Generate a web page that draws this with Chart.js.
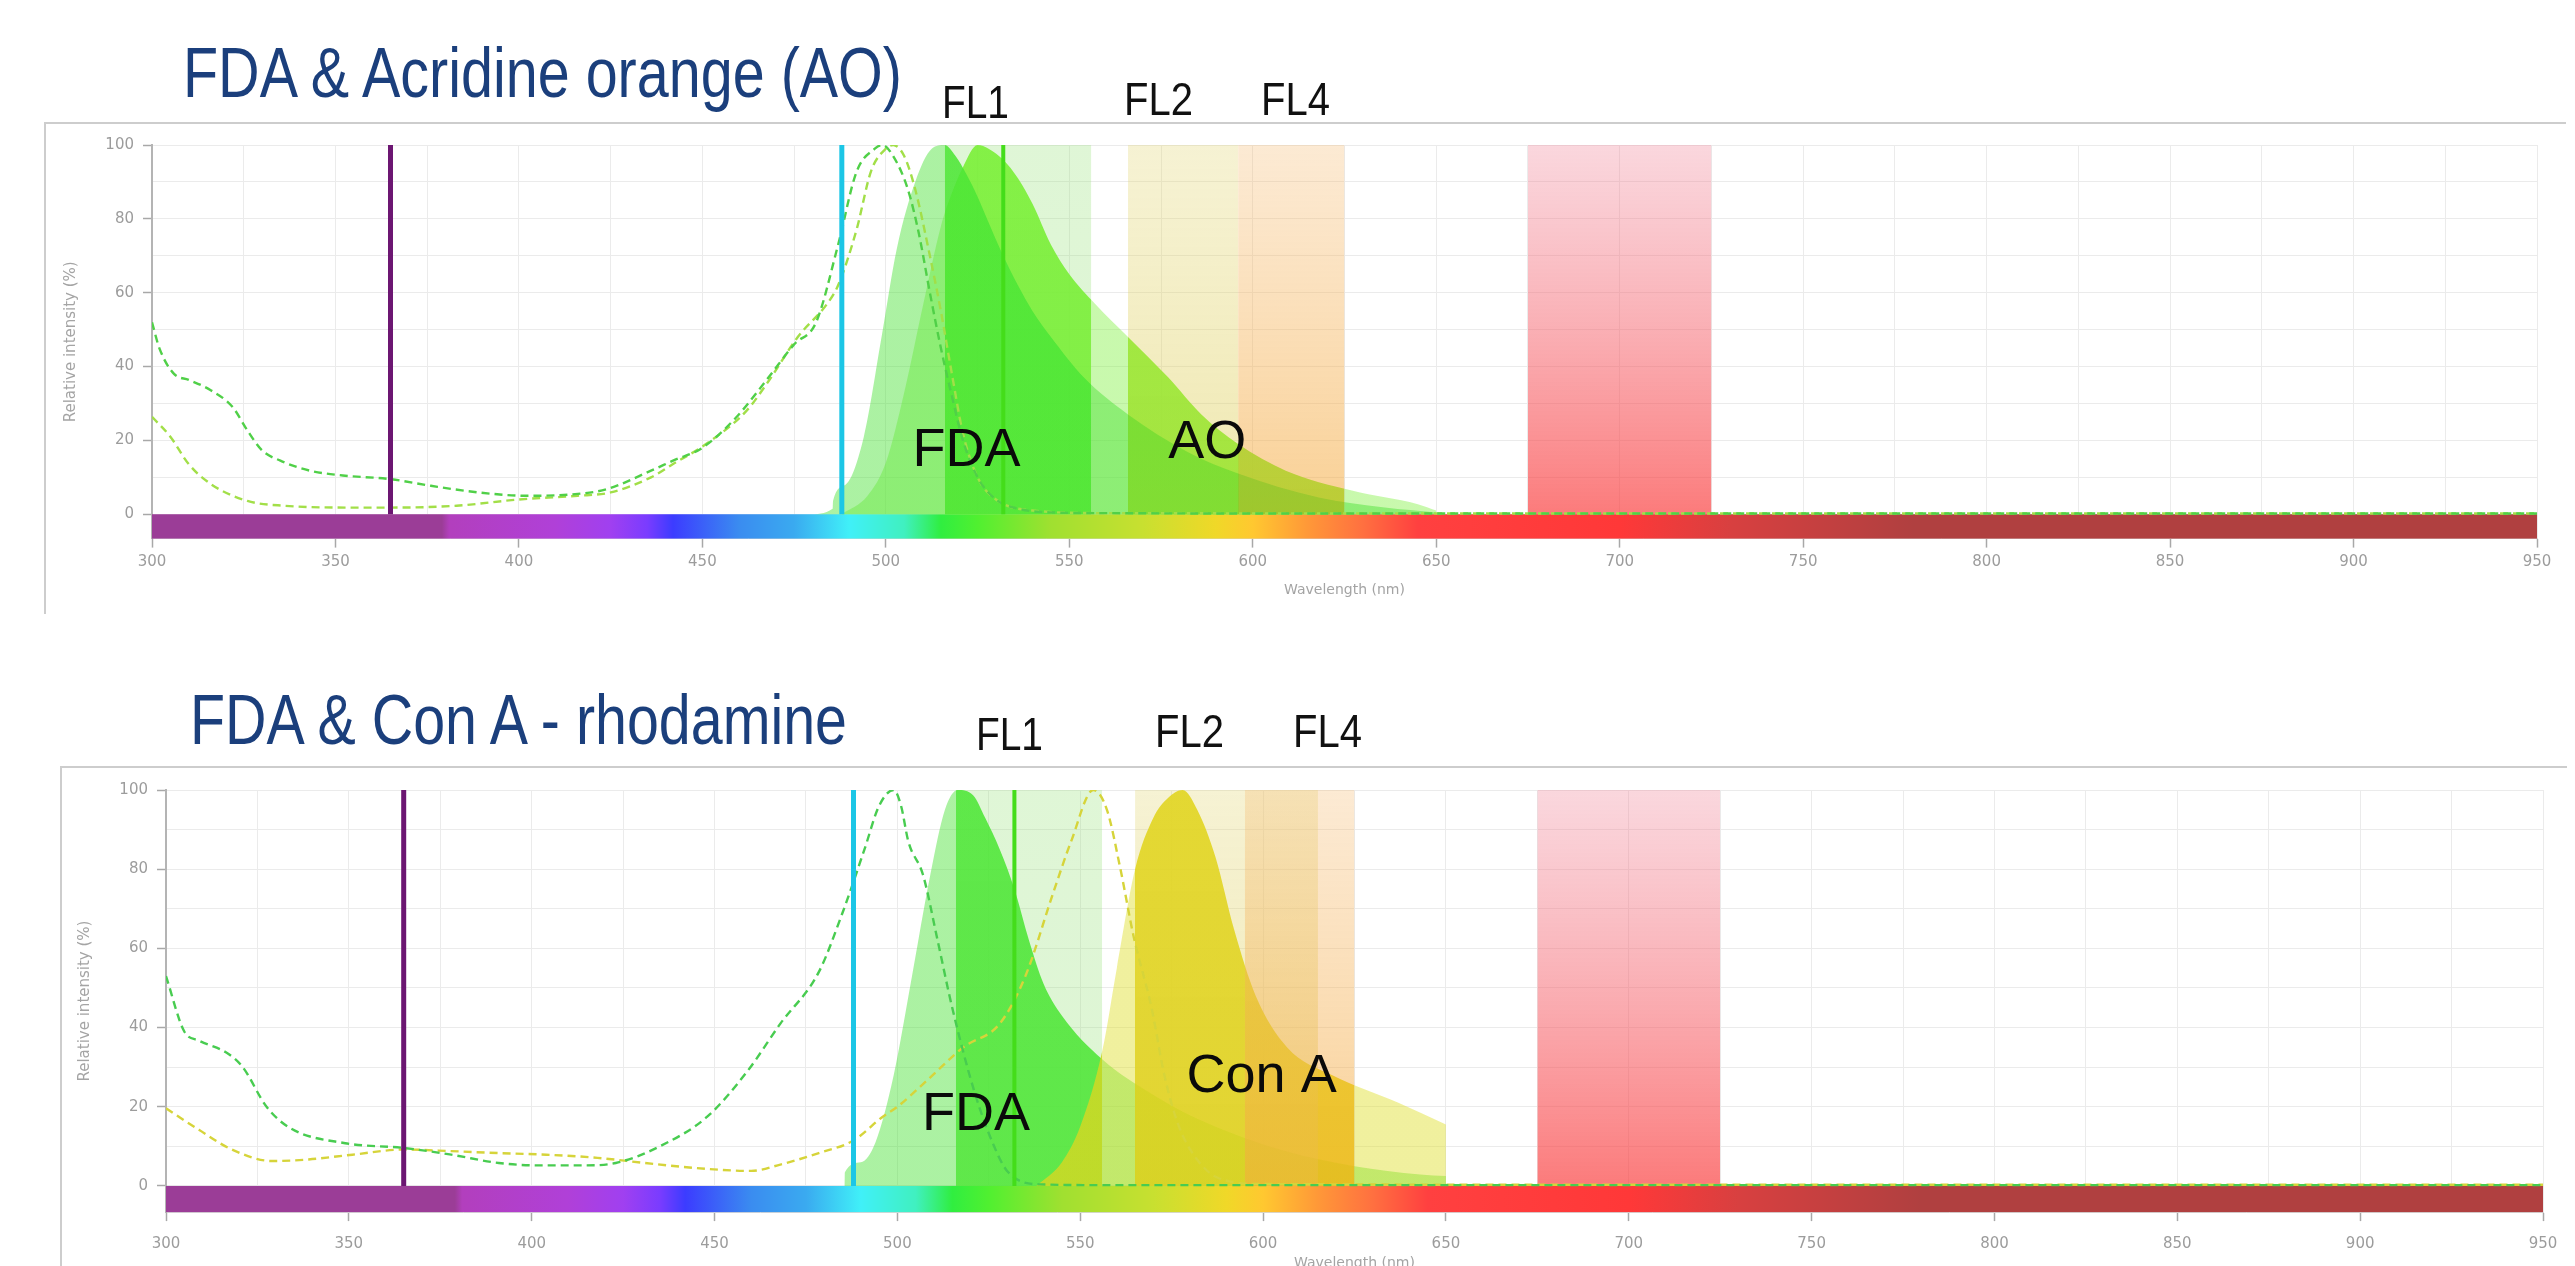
<!DOCTYPE html>
<html><head><meta charset="utf-8">
<script src="https://cdn.jsdelivr.net/npm/chart.js@4.4.1/dist/chart.umd.min.js"></script>
<style>
html,body{margin:0;padding:0;background:#fff;width:2575px;height:1266px;overflow:hidden;position:relative}
canvas{position:absolute;left:0}
.t{position:absolute;white-space:nowrap;line-height:1;transform-origin:0 0}
.frame{position:absolute;border-top:2px solid #cdcdcd;border-left:2px solid #cdcdcd}
</style></head><body>
<div class="frame" style="left:44px;top:122px;width:2520px;height:490px"></div>
<div class="frame" style="left:60px;top:766px;width:2505px;height:510px"></div>
<canvas id="c1" width="2575" height="640" style="top:0"></canvas>
<canvas id="c2" width="2575" height="640" style="top:650px"></canvas>
<script>
// ---------- data ----------
const X_MIN = 300, X_MAX = 950, Y_MIN = -6.6, Y_MAX = 100;
const xTickLabels = [300,350,400,450,500,550,600,650,700,750,800,850,900,950];
const yTickLabels = [0,20,40,60,80,100];

// laser lines (nm)
const laserNm = [365, 488, 532];

// filter bands (nm)
const bandNames = ['FL1','FL2','FL4','FL3'];
const topBandFrom = [516, 566, 596, 675];
const topBandTo   = [556, 596, 625, 725];
const botBandFrom = [516, 565, 595, 675];
const botBandTo   = [556, 615, 625, 725];
const bandTop = 100;

// top chart: FDA & Acridine orange
const topFdaExNm  = [300,302,306,310,316,322,326,330,335,343,352,365,376,389,402,416,424,436,442,450,459,468,475,481,487,492,497,499,502,506,509,512,515,518,521,525,530,536,545,560,600,700,800,950];
const topFdaExVal = [52,45,38,36.4,33.6,29,22.7,17.3,14.5,11.8,10.5,9.5,7.7,5.9,5,5.5,6.8,11.8,14.5,18,26,37,46,52,73,92.7,99,100,97,88,76,60,45,32,20,10,4,1.5,0.5,0.3,0.2,0.2,0.2,0.2];
const topAoExNm   = [300,305,310,316,326,336,356,365,383,400,416,425,436,442,451,462,468,476,484,487,492,496,500,502,505,508,512,515,518,521,525,530,540,560,700,950];
const topAoExVal  = [26.4,21,13.6,8.2,3.6,2.3,1.8,1.8,2.3,4,5,5.9,10,13.6,19,28,36,48,57,62,77,93,99,100,97,88,70,55,38,22,10,4,1,0.3,0.2,0.2];
const topFdaEmNm  = [479,485.5,485.6,489,494,499,503,508,512.5,516,519,522,525,528,532,536,540,545,554,566,582,596,618,636,650];
const topFdaEmVal = [0,1.5,3.6,8,21,49,72,90,99,100,97,92,86,79,70,62,55,48,37,27,17,11,4.5,1.8,0.5];
const topAoEmNm   = [488,495,500,505,510,515,518,521,525,528,532,536,540,545,550,557,566,577,586,596,609,627,645,650];
const topAoEmVal  = [0,5,14,33,56,78,87,94,100,99,96,91,84,73,65,57,48,37,27,19,11.8,6.4,2.7,1];

// bottom chart: FDA & Con A - rhodamine
const botFdaExNm  = [300,305,309,317,321,327.5,334,349,365,378,391,402,415,423,435,448,459,468,478.5,485,491,495,499,501,503,507,511,515,521,526,530,539,560,700,950];
const botFdaExVal = [53,39,36.7,33.4,30,20,14.6,10.8,9.6,7.9,5.8,5.2,5.2,5.8,10,17.5,29,41,54,69,85,96,100,96,87,78.6,62,45,24,11,3.8,0.4,0.2,0.2,0.2];
const botRhoExNm  = [300,309,318,329,339,351,365,378,391,404,418,431,444,460,468,478.5,488,496,500,508.5,518,528,535,542.6,547.5,553.6,557.3,561,564.6,569.5,573,576.8,581.7,587.8,600,700,950];
const botRhoExVal = [19.6,14.2,9.2,6.3,6.7,7.9,9.2,8.8,8.3,7.9,7.1,5.8,4.6,3.8,5.4,8.3,11.5,17.5,20,27,35,41,53,74,87,100,95,80,63,45,28,15.5,7,2,0.5,0.3,0.3];
const botFdaEmNm  = [485.5,485.6,490,494,499,504,509,513,516.5,520.7,524,528,532,536,540,545,556,570,582,606,625,643,650];
const botFdaEmVal = [0,3.4,6,11,28,53,78.6,95,100,98.7,93,85,75,62,51,43,32,23,17,8.8,5,2.9,2.5];
const botConAEmNm  = [538,545,550,556,560,565,570,574,578,582,587,592,598,606.6,618.8,637,650];
const botConAEmVal = [0,6,15,34,55,80,93,98,100,95,83,65,48,35,28,21,15.5];

// in-plot labels (text, wavelength, intensity)
const topAnnText = ['FDA','AO'];
const topAnnNm   = [522, 587.6];
const topAnnVal  = [17, 19.2];
const botAnnText = ['FDA','Con A'];
const botAnnNm   = [521.5, 599.6];
const botAnnVal  = [18, 27.6];

// visible spectrum strip under the axis
const spectrumNm    = [300,379,381,410,425,435,442,460,475,490,505,515,525,545,570,590,600,615,630,645,700,730,780,950];
const spectrumColor = ['#9b3d97','#9b3d97','#b23fbd','#b040d8','#a040f0','#7a3cff','#3c3cff','#3a8cf0','#3aaaf0','#40f0f8','#40f0c0','#30ee40','#50f030','#a0e030','#c8e030','#f0d828','#ffc830','#ff9838','#ff7040','#ff4040','#ff3838','#d84040','#b04040','#b04040'];

// ---------- styles ----------
const bandStyle = {
  FL1: ['rgba(150,225,120,0.30)','rgba(150,225,120,0.32)'],
  FL2: ['rgba(225,212,110,0.30)','rgba(222,205,80,0.45)'],
  FL4: ['rgba(245,185,110,0.30)','rgba(245,170,60,0.55)'],
  FL3: ['rgba(240,130,150,0.32)','rgba(250,60,60,0.68)']
};
const laserStyle = [['#6c1672',5],['#1cc6e6',5],['#44dd1a',4]];

Chart.defaults.font.family = '"DejaVu Sans", "Liberation Sans", sans-serif';

const xy = (n, v) => n.map((x, i) => ({x, y: v[i]}));

function mergedIntervals(from, to) {
  const iv = from.map((a, i) => [a, to[i]]).sort((p, q) => p[0] - q[0]);
  const out = [];
  iv.forEach(([a, b]) => {
    if (out.length && a <= out[out.length-1][1]) out[out.length-1][1] = Math.max(out[out.length-1][1], b);
    else out.push([a, b]);
  });
  return out;
}

function emission(n, v, outC, inC, from, to, order) {
  const iv = mergedIntervals(from, to);
  return {
    data: xy(n, v), order, fill: 'origin', borderColor: 'rgba(0,0,0,0)', borderWidth: 0,
    cubicInterpolationMode: 'monotone', pointRadius: 0,
    backgroundColor: (ctx) => {
      const chart = ctx.chart, area = chart.chartArea;
      if (!area) return outC;
      const sx = chart.scales.x;
      const x0 = sx.getPixelForValue(X_MIN), x1 = sx.getPixelForValue(X_MAX);
      const g = chart.ctx.createLinearGradient(x0, 0, x1, 0);
      const f = nm => Math.min(1, Math.max(0, (nm - X_MIN) / (X_MAX - X_MIN)));
      g.addColorStop(0, outC);
      iv.forEach(([a, b]) => {
        g.addColorStop(f(a), outC); g.addColorStop(f(a), inC);
        g.addColorStop(f(b), inC); g.addColorStop(f(b), outC);
      });
      g.addColorStop(1, outC);
      return g;
    }
  };
}

function band(name, a, b, order) {
  const [cTop, cBot] = bandStyle[name];
  return {
    data: [{x: a, y: bandTop}, {x: b, y: bandTop}], order, fill: 'origin',
    borderColor: 'rgba(0,0,0,0)', borderWidth: 0, pointRadius: 0, tension: 0,
    backgroundColor: (ctx) => {
      const chart = ctx.chart, area = chart.chartArea;
      if (!area) return cBot;
      const sy = chart.scales.y;
      const g = chart.ctx.createLinearGradient(0, sy.getPixelForValue(bandTop), 0, sy.getPixelForValue(0));
      g.addColorStop(0, cTop); g.addColorStop(1, cBot);
      return g;
    }
  };
}

function excitation(n, v, color, order) {
  return { data: xy(n, v), order, fill: false, borderColor: color, borderWidth: 2.4,
    borderDash: [8, 5], cubicInterpolationMode: 'monotone', pointRadius: 0 };
}

function laser(i, order) {
  return { data: [{x: laserNm[i], y: 0}, {x: laserNm[i], y: 100}], order, fill: false,
    borderColor: laserStyle[i][0], borderWidth: laserStyle[i][1], pointRadius: 0, tension: 0 };
}

const spectrumPlugin = {
  id: 'spectrumBar',
  beforeDatasetsDraw(chart) {
    const {ctx, scales: {x, y}} = chart;
    const x0 = x.getPixelForValue(X_MIN), x1 = x.getPixelForValue(X_MAX);
    const y0 = y.getPixelForValue(0), y1 = y.getPixelForValue(Y_MIN);
    const g = ctx.createLinearGradient(x0, 0, x1, 0);
    spectrumNm.forEach((nm, i) => g.addColorStop((nm - X_MIN) / (X_MAX - X_MIN), spectrumColor[i]));
    ctx.save(); ctx.fillStyle = g; ctx.fillRect(x0, y0, x1 - x0, y1 - y0); ctx.restore();
  }
};

const annotPlugin = {
  id: 'annot',
  afterDatasetsDraw(chart, args, opts) {
    const {ctx, scales: {x, y}} = chart;
    ctx.save();
    ctx.font = '54px "Liberation Sans", Arial, sans-serif';
    ctx.fillStyle = '#0a0a0a'; ctx.textAlign = 'center'; ctx.textBaseline = 'middle';
    opts.texts.forEach((t, i) => ctx.fillText(t, x.getPixelForValue(opts.nm[i]), y.getPixelForValue(opts.val[i])));
    ctx.restore();
  }
};

function makeChart(id, c) {
  const tickColorX = (ctx) => (ctx.tick && xTickLabels.includes(ctx.tick.value)) ? '#a8a8a8' : 'rgba(0,0,0,0)';
  const tickColorY = (ctx) => (ctx.tick && yTickLabels.includes(ctx.tick.value)) ? '#a8a8a8' : 'rgba(0,0,0,0)';
  return new Chart(document.getElementById(id), {
    type: 'line',
    data: { datasets: c.datasets },
    options: {
      responsive: false, animation: false, devicePixelRatio: 1,
      layout: { padding: c.padding },
      plugins: { legend: {display: false}, tooltip: {enabled: false},
        annot: { texts: c.annText, nm: c.annNm, val: c.annVal } },
      elements: { point: { radius: 0 } },
      scales: {
        x: { type: 'linear', min: X_MIN, max: X_MAX,
          afterFit: s => { s.height = 60; },
          ticks: { stepSize: 25, autoSkip: false, maxRotation: 0, color: '#9c9c9c', font: {size: 15}, padding: c.xPad,
            callback: v => xTickLabels.includes(v) ? String(v) : '' },
          grid: { color: '#ebebeb', lineWidth: 1, tickLength: 9, tickWidth: 1.5, tickColor: tickColorX },
          border: { color: '#d6d6d6', width: 1 },
          title: { display: true, text: 'Wavelength (nm)', color: '#a4a4a4', font: {size: 14}, padding: {top: 4, bottom: 0} } },
        y: { type: 'linear', min: Y_MIN, max: Y_MAX,
          afterFit: s => { s.width = 92; },
          afterBuildTicks: s => { s.ticks = s.ticks.filter(t => t.value >= 0); },
          ticks: { stepSize: 10, autoSkip: false, color: '#9c9c9c', font: {size: 15}, padding: 9,
            callback: v => yTickLabels.includes(v) ? String(v) : '' },
          grid: { color: '#ebebeb', lineWidth: 1, tickLength: 9, tickWidth: 1.5, tickColor: tickColorY },
          border: { color: '#b4b4b4', width: 2 },
          title: { display: true, text: 'Relative intensity (%)', color: '#a4a4a4', font: {size: 15}, padding: {top: 2, bottom: 4} } }
      }
    },
    plugins: [spectrumPlugin, annotPlugin]
  });
}

function bandsFor(from, to, startOrder) {
  return bandNames.map((nm, i) => band(nm, from[i], to[i], startOrder - i));
}

// top chart
makeChart('c1', {
  padding: {left: 60, right: 38, top: 145, bottom: 41.4}, xPad: 6,
  annText: topAnnText, annNm: topAnnNm, annVal: topAnnVal,
  datasets: [
    emission(topAoEmNm, topAoEmVal, 'rgba(125,240,60,0.42)', 'rgba(105,245,20,0.88)', topBandFrom, topBandTo, 20),
    emission(topFdaEmNm, topFdaEmVal, 'rgba(70,225,50,0.45)', 'rgba(45,232,25,0.88)', topBandFrom, topBandTo, 19),
    ...bandsFor(topBandFrom, topBandTo, 15),
    excitation(topAoExNm, topAoExVal, '#a2df48', 6),
    excitation(topFdaExNm, topFdaExVal, '#50d048', 5),
    laser(0, 3), laser(1, 2), laser(2, 1)
  ]
});

// bottom chart
makeChart('c2', {
  padding: {left: 74, right: 32, top: 140, bottom: 17.9}, xPad: 14,
  annText: botAnnText, annNm: botAnnNm, annVal: botAnnVal,
  datasets: [
    emission(botFdaEmNm, botFdaEmVal, 'rgba(70,225,50,0.45)', 'rgba(45,232,25,0.88)', botBandFrom, botBandTo, 20),
    emission(botConAEmNm, botConAEmVal, 'rgba(222,222,40,0.45)', 'rgba(226,214,0,0.9)', botBandFrom, botBandTo, 19),
    ...bandsFor(botBandFrom, botBandTo, 15),
    excitation(botRhoExNm, botRhoExVal, '#d6d43a', 6),
    excitation(botFdaExNm, botFdaExVal, '#48cc50', 5),
    laser(0, 3), laser(1, 2), laser(2, 1)
  ]
});

// ---------- headings ----------
const narrow = '"Liberation Sans Narrow", "Arial Narrow", "Liberation Sans", Arial, sans-serif';
function place(str, o) {
  const d = document.createElement('div');
  d.className = 't'; d.textContent = str;
  d.style.fontFamily = narrow; d.style.fontSize = o.size + 'px'; d.style.color = o.color;
  document.body.appendChild(d);
  const w = d.getBoundingClientRect().width;
  const s = o.width / w;
  const left = (o.cx !== undefined) ? o.cx - o.width / 2 : o.left;
  d.style.left = left + 'px';
  d.style.top = (o.baseline - 0.8465 * o.size) + 'px';
  d.style.transform = 'scaleX(' + s + ')';
}
place('FDA & Acridine orange (AO)', {left: 183, width: 719, baseline: 97, size: 70, color: '#1b3f7c'});
place('FL1', {cx: 975, width: 67, baseline: 118, size: 46, color: '#111'});
place('FL2', {cx: 1158, width: 69, baseline: 115, size: 46, color: '#111'});
place('FL4', {cx: 1295, width: 69, baseline: 115, size: 46, color: '#111'});
place('FDA & Con A - rhodamine', {left: 190, width: 657, baseline: 744, size: 70, color: '#1b3f7c'});
place('FL1', {cx: 1009, width: 67, baseline: 750, size: 46, color: '#111'});
place('FL2', {cx: 1189, width: 69, baseline: 747, size: 46, color: '#111'});
place('FL4', {cx: 1327, width: 69, baseline: 747, size: 46, color: '#111'});
</script>
</body></html>
